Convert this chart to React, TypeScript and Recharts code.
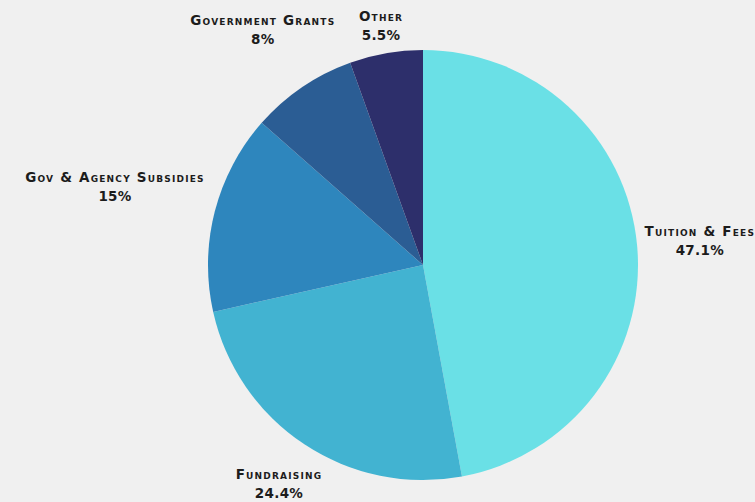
import { PieChart, Pie, Cell } from "recharts";

const categories = ["Tuition & Fees", "Fundraising", "Gov & Agency Subsidies", "Government Grants", "Other"];
const shares = [47.1, 24.4, 15, 8, 5.5];
const colors = ["#6ae0e6", "#42b3d1", "#2e86bd", "#2b5d94", "#2d2f6b"];

// distance from pie centre to the middle of each label block
const labelRadius = [278, 261, 318, 285, 244];

const data = categories.map((name, i) => ({ name, value: shares[i] }));

const RAD = Math.PI / 180;

function renderLabel(props: any) {
  const { cx, cy, midAngle, index } = props;
  const r = labelRadius[index];
  const x = cx + r * Math.cos(-midAngle * RAD);
  const y = cy + r * Math.sin(-midAngle * RAD);
  return (
    <text
      x={x}
      y={y}
      textAnchor="middle"
      fill="#1c1c1c"
      style={{
        fontFamily: "'DejaVu Sans', sans-serif",
        fontWeight: 700,
        fontSize: 13.5,
        fontVariantCaps: "small-caps",
      }}
    >
      <tspan x={x} dy={-4} style={{ letterSpacing: 1.2 }}>{data[index].name}</tspan>
      <tspan x={x} dy={19} style={{ letterSpacing: 0.3 }}>{`${shares[index]}%`}</tspan>
    </text>
  );
}

export default function App() {
  return (
    <div style={{ position: "fixed", left: 0, top: 0, width: 755, height: 502, background: "#f0f0f0", overflow: "hidden" }}>
      <PieChart width={755} height={502} margin={{ top: 0, right: 0, bottom: 0, left: 0 }}>
        <Pie
          data={data}
          dataKey="value"
          nameKey="name"
          cx={423}
          cy={265}
          outerRadius={215}
          startAngle={90}
          endAngle={-270}
          stroke="none"
          label={renderLabel}
          labelLine={false}
          isAnimationActive={false}
        >
          {data.map((d, i) => (
            <Cell key={d.name} fill={colors[i]} />
          ))}
        </Pie>
      </PieChart>
    </div>
  );
}
